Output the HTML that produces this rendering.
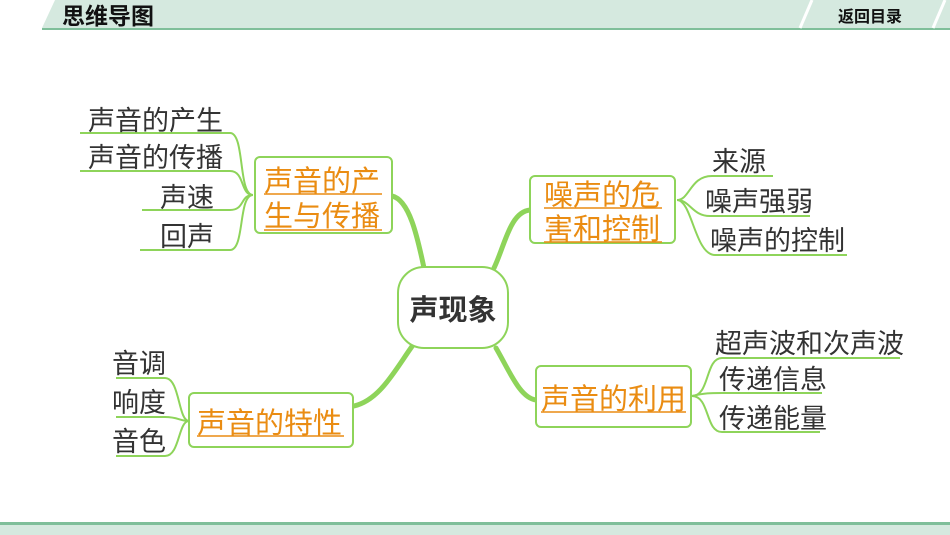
<!DOCTYPE html>
<html><head><meta charset="utf-8"><style>
html,body{margin:0;padding:0;background:#fff;}
body{width:950px;height:535px;overflow:hidden;}
svg{display:block}
text{font-family:"Liberation Sans","Noto Sans CJK SC",sans-serif;}
.leaf{font-size:27px;fill:#333;}
.or{font-size:29px;fill:#ea8c12;}
.ln{stroke:#8ed45a;fill:none;stroke-width:2;}
.th{stroke:#8ed45a;fill:none;stroke-width:5;stroke-linecap:round;}
.bx{stroke:#8ed45a;fill:#fff;stroke-width:2;}
.ul{stroke:#ea8c12;stroke-width:1.5;}
</style></head><body>
<svg width="950" height="535" viewBox="0 0 950 535">
<polygon points="55,0 950,0 950,28 42,28" fill="#d5e9df"/>
<line x1="42" y1="29" x2="950" y2="29" stroke="#7fbf9a" stroke-width="2"/>
<line x1="812" y1="0" x2="800" y2="28" stroke="#fff" stroke-width="3"/>
<line x1="945" y1="0" x2="933" y2="28" stroke="#fff" stroke-width="3"/>
<text x="62" y="24" font-size="23" font-weight="bold" fill="#111">思维导图</text>
<text x="838" y="22" font-size="16" font-weight="bold" fill="#111">返回目录</text>
<rect x="0" y="522" width="950" height="3" fill="#7fbf9a"/>
<rect x="0" y="525" width="950" height="10" fill="#d5e9df"/>

<path class="th" d="M392,196 C410,200 418,240 424,268"/>
<path class="th" d="M494,268 C505,245 510,212 530,210"/>
<path class="th" d="M496,348 C510,372 520,398 536,400"/>
<path class="th" d="M413,345 C395,370 380,400 354,406"/>

<rect x="398" y="267" width="110" height="81" rx="26" class="bx" stroke-width="3"/>
<text x="453" y="320" font-size="29" font-weight="bold" fill="#333" text-anchor="middle">声现象</text>

<path class="ln" d="M80,133 H230 C245,133 238,195 253,195"/>
<path class="ln" d="M80,171 H230 C245,171 240,195 253,195"/>
<path class="ln" d="M142,210 H230 C245,210 240,195 253,195"/>
<path class="ln" d="M140,250 H230 C245,250 238,195 253,195"/>
<text class="leaf" x="88" y="130">声音的产生</text>
<text class="leaf" x="88" y="167">声音的传播</text>
<text class="leaf" x="160" y="207">声速</text>
<text class="leaf" x="160" y="246">回声</text>
<rect x="255" y="157" width="137" height="76" rx="5" class="bx"/>
<text class="or" x="264" y="191">声音的产</text>
<line class="ul" x1="264" y1="194" x2="382" y2="194"/>
<text class="or" x="264" y="226">生与传播</text>
<line class="ul" x1="264" y1="230" x2="382" y2="230"/>

<path class="ln" d="M677,200 C690,200 690,176 712,176 H773"/>
<path class="ln" d="M677,200 C690,200 692,216 710,216 H810"/>
<path class="ln" d="M677,200 C692,200 695,255 715,255 H847"/>
<text class="leaf" x="712" y="171">来源</text>
<text class="leaf" x="705" y="211">噪声强弱</text>
<text class="leaf" x="710" y="250">噪声的控制</text>
<rect x="530" y="176" width="145" height="67" rx="5" class="bx"/>
<text class="or" x="544" y="205">噪声的危</text>
<line class="ul" x1="544" y1="208" x2="662" y2="208"/>
<text class="or" x="544" y="239">害和控制</text>
<line class="ul" x1="544" y1="242" x2="662" y2="242"/>

<path class="ln" d="M692,396 C710,396 705,358 722,358 H900"/>
<path class="ln" d="M692,396 C705,393 710,393 722,393 H822"/>
<path class="ln" d="M692,396 C710,396 705,432 722,432 H820"/>
<text class="leaf" x="715" y="353">超声波和次声波</text>
<text class="leaf" x="719" y="389">传递信息</text>
<text class="leaf" x="719" y="428">传递能量</text>
<rect x="536" y="366" width="155" height="61" rx="5" class="bx"/>
<text class="or" x="541" y="409">声音的利用</text>
<line class="ul" x1="541" y1="412" x2="686" y2="412"/>

<path class="ln" d="M116,378 H165 C180,378 178,421 189,421"/>
<path class="ln" d="M116,417 H165 C178,417 180,421 189,421"/>
<path class="ln" d="M116,456 H165 C180,456 178,421 189,421"/>
<text class="leaf" x="112" y="373">音调</text>
<text class="leaf" x="112" y="412">响度</text>
<text class="leaf" x="112" y="451">音色</text>
<rect x="189" y="393" width="164" height="54" rx="5" class="bx"/>
<text class="or" x="197" y="433">声音的特性</text>
<line class="ul" x1="197" y1="436" x2="344" y2="436"/>
</svg>
</body></html>
